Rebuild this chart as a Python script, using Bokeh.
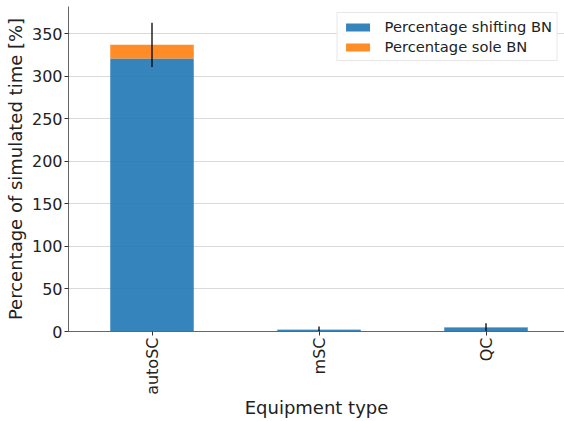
import math
from bokeh.plotting import figure
from bokeh.models import ColumnDataSource, FixedTicker, Range1d, Legend
from bokeh.embed import file_html
from bokeh.resources import INLINE

categories = ["autoSC", "mSC", "QC"]
pct_shifting = [321.0, 2.0, 4.8]
pct_sole = [16.0, 0.3, 0.4]
err = [26.0, 3.5, 4.5]
y_ticks = [0, 50, 100, 150, 200, 250, 300, 350]

xs = list(range(len(categories)))
tops = [a + b for a, b in zip(pct_shifting, pct_sole)]
src = ColumnDataSource(dict(x=xs, shift=pct_shifting, sole=pct_sole,
                            lo=[t - e for t, e in zip(tops, err)],
                            hi=[t + e for t, e in zip(tops, err)]))

p = figure(width=564, height=421, output_backend="svg", toolbar_location=None,
           x_range=Range1d(-0.5, 2.47), y_range=Range1d(0, 382),
           min_border_left=68, min_border_right=0, min_border_top=6, min_border_bottom=90)
p.outline_line_color = None

rs = p.vbar_stack(["shift", "sole"], x="x", width=0.5, source=src,
                  color=["#1f77b4", "#ff7f0e"], fill_alpha=0.9, line_alpha=0.0)
p.segment(x0="x", x1="x", y0="lo", y1="hi", source=src, line_color="black", line_width=1.3)

legend = Legend(items=[("Percentage shifting BN", [rs[0]]), ("Percentage sole BN", [rs[1]])],
                location="top_right")
legend.label_text_font = "DejaVu Sans"
legend.label_text_font_size = "14.7px"
legend.label_text_color = "#222222"
legend.glyph_width = 30
legend.glyph_height = 10
legend.spacing = 3
legend.padding = 5
legend.margin = 6
legend.label_standoff = 12
legend.border_line_color = "#d0d0d0"
legend.background_fill_alpha = 0.9
p.add_layout(legend)

p.xaxis.ticker = FixedTicker(ticks=xs)
p.xaxis.major_label_overrides = {i: c for i, c in enumerate(categories)}
p.xaxis.major_label_orientation = math.pi / 2
p.yaxis.ticker = FixedTicker(ticks=y_ticks)

for ax in (p.xaxis[0], p.yaxis[0]):
    ax.major_label_text_font = "DejaVu Sans"
    ax.major_label_text_font_size = "16px"
    ax.major_label_text_color = "#222222"
    ax.major_label_standoff = 2
    ax.axis_label_text_font = "DejaVu Sans"
    ax.axis_label_text_font_size = "18px"
    ax.axis_label_text_font_style = "normal"
    ax.axis_label_text_color = "#222222"
    ax.axis_label_standoff = 3
    ax.minor_tick_line_color = None
    ax.major_tick_out = 4
    ax.major_tick_in = 0
    ax.major_tick_line_color = "#333333"
    ax.axis_line_color = "#666666"

p.xaxis.axis_label_standoff = -1
p.xaxis.axis_label = "Equipment type"
p.yaxis.axis_label = "Percentage of simulated time [%]"
p.xgrid.grid_line_color = None
p.ygrid.grid_line_color = "#d9d9d9"
p.ygrid.grid_line_width = 1

open("out.html", "w").write(file_html(p, INLINE))
